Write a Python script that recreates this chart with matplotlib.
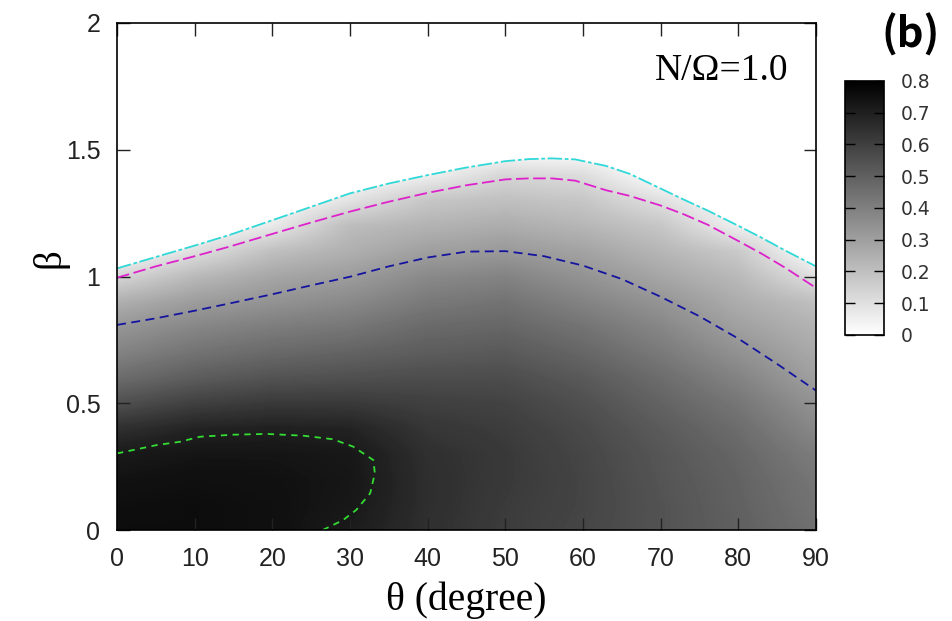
import matplotlib
matplotlib.use("Agg")
import matplotlib.pyplot as plt
import numpy as np
from matplotlib.patches import Polygon

# grid of the shaded field (rows = beta, cols = theta)
theta_grid = [0, 10, 20, 30, 40, 50, 60, 70, 80, 90]
beta_grid = [0.0, 0.1, 0.2, 0.3, 0.4, 0.5, 0.6, 0.7, 0.8, 0.9, 1.0,
             1.1, 1.2, 1.3, 1.4, 1.5, 1.6, 1.7, 1.8, 1.9, 2.0]
field = [
    [0.76, 0.76, 0.75, 0.715, 0.65, 0.61, 0.58, 0.54, 0.50, 0.45],
    [0.755, 0.76, 0.75, 0.725, 0.655, 0.615, 0.585, 0.54, 0.495, 0.44],
    [0.74, 0.75, 0.745, 0.73, 0.655, 0.62, 0.585, 0.535, 0.49, 0.43],
    [0.72, 0.735, 0.735, 0.725, 0.65, 0.62, 0.58, 0.53, 0.48, 0.41],
    [0.65, 0.69, 0.70, 0.69, 0.63, 0.61, 0.57, 0.515, 0.46, 0.375],
    [0.55, 0.60, 0.62, 0.62, 0.60, 0.59, 0.55, 0.49, 0.43, 0.34],
    [0.46, 0.51, 0.54, 0.55, 0.56, 0.56, 0.52, 0.46, 0.39, 0.30],
    [0.39, 0.44, 0.47, 0.49, 0.51, 0.52, 0.48, 0.42, 0.345, 0.27],
    [0.33, 0.38, 0.41, 0.43, 0.47, 0.48, 0.44, 0.38, 0.30, 0.24],
    [0.25, 0.31, 0.34, 0.37, 0.42, 0.44, 0.39, 0.335, 0.26, 0.20],
    [0.13, 0.22, 0.28, 0.31, 0.37, 0.39, 0.34, 0.28, 0.22, 0.10],
    [0.0, 0.10, 0.20, 0.25, 0.30, 0.32, 0.29, 0.23, 0.17, 0.0],
    [0.0, 0.0, 0.07, 0.21, 0.24, 0.26, 0.23, 0.18, 0.05, 0.0],
    [0.0, 0.0, 0.0, 0.09, 0.18, 0.20, 0.18, 0.10, 0.0, 0.0],
    [0.0, 0.0, 0.0, 0.0, 0.05, 0.13, 0.11, 0.0, 0.0, 0.0],
    [0.0, 0.0, 0.0, 0.0, 0.0, 0.0, 0.0, 0.0, 0.0, 0.0],
    [0.0, 0.0, 0.0, 0.0, 0.0, 0.0, 0.0, 0.0, 0.0, 0.0],
    [0.0, 0.0, 0.0, 0.0, 0.0, 0.0, 0.0, 0.0, 0.0, 0.0],
    [0.0, 0.0, 0.0, 0.0, 0.0, 0.0, 0.0, 0.0, 0.0, 0.0],
    [0.0, 0.0, 0.0, 0.0, 0.0, 0.0, 0.0, 0.0, 0.0, 0.0],
    [0.0, 0.0, 0.0, 0.0, 0.0, 0.0, 0.0, 0.0, 0.0, 0.0],
]

# contour lines
cyan_theta = [0, 5, 10, 14.5, 20, 25, 30, 35, 40, 45, 50, 53, 56, 59, 63, 66, 70, 73, 76, 80, 83, 86, 90]
cyan_beta = [1.032, 1.077, 1.122, 1.164, 1.222, 1.275, 1.328, 1.367, 1.40, 1.43, 1.455, 1.463, 1.466,
             1.462, 1.436, 1.405, 1.347, 1.303, 1.261, 1.20, 1.153, 1.103, 1.04]
magenta_theta = [0, 5, 10, 14.5, 20, 25, 30, 35, 40, 45, 50, 53, 56, 59, 63, 66, 70, 73, 76, 80, 83, 86, 90]
magenta_beta = [0.995, 1.04, 1.08, 1.118, 1.168, 1.213, 1.256, 1.295, 1.33, 1.36, 1.383, 1.387, 1.387,
                1.378, 1.34, 1.318, 1.28, 1.245, 1.205, 1.14, 1.09, 1.035, 0.955]
blue_theta = [0, 5, 10, 15, 20, 25, 30, 35, 40, 45, 50, 55, 60, 65, 70, 75, 80, 85, 90]
blue_beta = [0.809, 0.835, 0.865, 0.897, 0.93, 0.965, 0.999, 1.04, 1.075, 1.098, 1.10, 1.08, 1.043,
             0.99, 0.92, 0.843, 0.755, 0.655, 0.55]
green_theta = [0, 5.1, 8.1, 10.7, 15, 19.3, 24, 27.8, 30.4, 33, 33.2, 32.6, 30.8, 29.1, 26.5]
green_beta = [0.302, 0.335, 0.348, 0.368, 0.376, 0.379, 0.372, 0.358, 0.329, 0.276, 0.224, 0.145,
              0.079, 0.039, 0.0]

cbar_ticks = [0, 0.1, 0.2, 0.3, 0.4, 0.5, 0.6, 0.7, 0.8]
cbar_labels = ["0", "0.1", "0.2", "0.3", "0.4", "0.5", "0.6", "0.7", "0.8"]
x_ticks = [0, 10, 20, 30, 40, 50, 60, 70, 80, 90]
y_ticks = [0, 0.5, 1, 1.5, 2]
y_labels = ["0", "0.5", "1", "1.5", "2"]

fig = plt.figure(figsize=(9.52, 6.21), dpi=100)
ax = fig.add_axes([117 / 952, 1 - 530 / 621, 699 / 952, 507 / 621])

dt = (theta_grid[1] - theta_grid[0]) / 2
db = (beta_grid[1] - beta_grid[0]) / 2
im = ax.imshow(np.array(field), origin="lower", cmap="gray_r", vmin=0, vmax=0.8,
               interpolation="bilinear", aspect="auto",
               extent=(theta_grid[0] - dt, theta_grid[-1] + dt, beta_grid[0] - db, beta_grid[-1] + db))

# nothing is shaded above the outer (cyan) contour
clip_pts = [(cyan_theta[0], 0)] + list(zip(cyan_theta, cyan_beta)) + [(cyan_theta[-1], 0)]
clip = Polygon(clip_pts, closed=True, transform=ax.transData, facecolor="none", edgecolor="none")
ax.add_patch(clip)
im.set_clip_path(clip)

ax.plot(cyan_theta, cyan_beta, color="#30d8d8", lw=1.3, dashes=(8, 1.5, 2, 1.5))
ax.plot(magenta_theta, magenta_beta, color="#dd22cc", lw=1.3, dashes=(7, 2.5))
ax.plot(blue_theta, blue_beta, color="#1414a0", lw=1.3, dashes=(5, 3))
ax.plot(green_theta, green_beta, color="#33dd33", lw=1.3, dashes=(3.5, 3))

ax.set_xlim(0, 90)
ax.set_ylim(0, 2)
ax.set_xticks(x_ticks)
ax.set_yticks(y_ticks)
ax.set_yticklabels(y_labels)
ax.tick_params(direction="in", length=9, width=1.0, top=True, right=True,
               labelsize=18, colors="#222222")
ax.tick_params(axis="x", pad=12)
ax.tick_params(axis="y", pad=12)
for lab in ax.get_xticklabels() + ax.get_yticklabels():
    lab.set_family("Liberation Sans")
for sp in ax.spines.values():
    sp.set_linewidth(1.2)

fig.text(466 / 952, 1 - 600 / 621, "θ (degree)", family="Liberation Serif", fontsize=28.5,
         ha="center", va="center")
fig.text(50 / 952, 1 - 258 / 621, "β", family="Liberation Serif", fontsize=28,
         ha="center", va="center", rotation=90)
ax.text(0.96, 0.905, "N/Ω=1.0", transform=ax.transAxes, family="Liberation Serif",
        fontsize=27, ha="right", va="center")
fig.text(911 / 952, 1 - 35 / 621, "(b)", family=["Noto Sans CJK JP", "DejaVu Sans"],
         fontweight="bold", fontsize=30, ha="center", va="center")

cax = fig.add_axes([845 / 952, 1 - 335 / 621, 39 / 952, 254 / 621])
cb = fig.colorbar(im, cax=cax)
cb.set_ticks(cbar_ticks)
cb.set_ticklabels(cbar_labels)
cb.outline.set_linewidth(1.2)
cax.tick_params(direction="in", length=7, width=1.0, left=True, right=True,
                labelsize=13.5, labelcolor="#333333", pad=12)
for lab in cax.get_yticklabels():
    lab.set_family("DejaVu Sans")

fig.savefig("out.png", dpi=100)
